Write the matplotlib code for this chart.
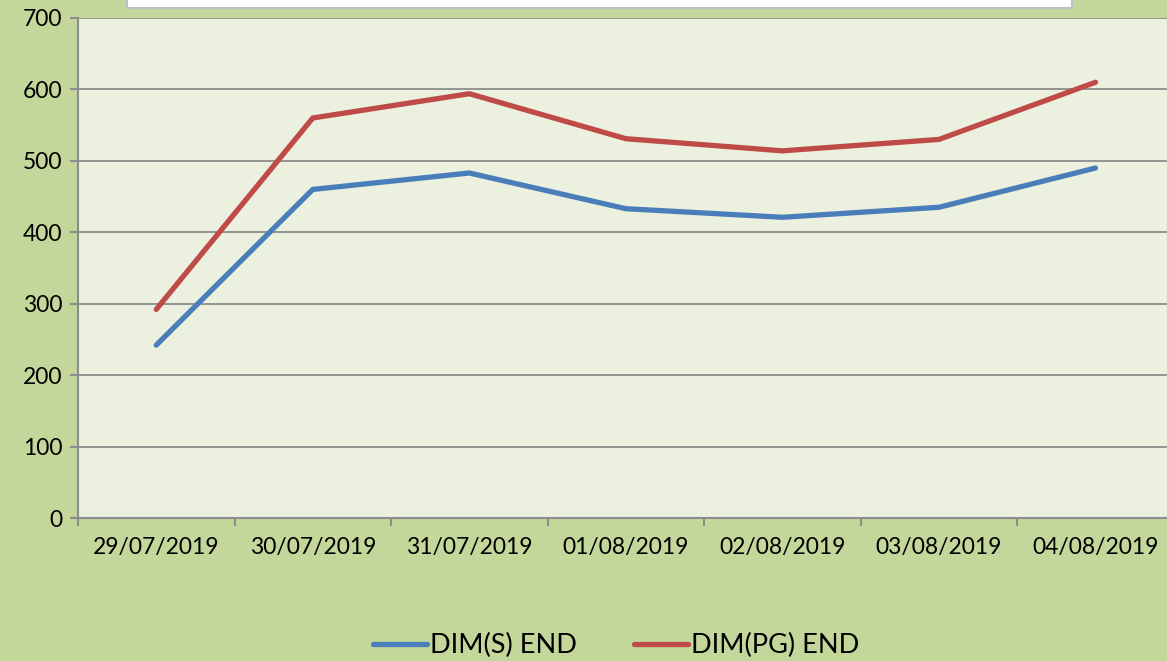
import matplotlib.pyplot as plt
from matplotlib.patches import Rectangle

plt.rcParams['font.family'] = ['Lato', 'DejaVu Sans']

# dados
datas = ['29/07/2019', '30/07/2019', '31/07/2019', '01/08/2019',
         '02/08/2019', '03/08/2019', '04/08/2019']
dim_s = [242, 460, 483, 433, 421, 435, 490]
dim_pg = [292, 560, 594, 531, 514, 530, 610]

fundo = '#C4D79B'
area = '#EBF1DE'
cinza = '#8C8C8C'

fig = plt.figure(figsize=(11.67, 6.61), dpi=100, facecolor=fundo)
ax = fig.add_axes([0.0668, 0.2163, 0.939, 0.7565], facecolor=area)

# caixa branca do titulo (cortada no topo)
fig.patches.append(Rectangle((127 / 1167, 1 - 8 / 661), 945 / 1167, 0.05,
                             transform=fig.transFigure, facecolor='white',
                             edgecolor='#BFBFBF', linewidth=1.5))

x = list(range(len(datas)))
ax.plot(x, dim_s, color='#4A7EBB', linewidth=3.8, solid_capstyle='round', label='DIM(S) END')
ax.plot(x, dim_pg, color='#BE4B48', linewidth=3.8, solid_capstyle='round', label='DIM(PG) END')

ax.set_xlim(-0.5, len(datas) - 0.5)
ax.set_ylim(0, 700)
ax.set_yticks(range(0, 701, 100))
ax.set_xticks([i + 0.5 for i in range(-1, len(datas))], minor=False)
ax.set_xticklabels([])
ax.set_xticks(x, minor=True)
ax.set_xticklabels(datas, minor=True)
ax.tick_params(axis='x', which='minor', length=0, pad=14, labelsize=16.5)
ax.tick_params(axis='x', which='major', length=6, width=1.5, color=cinza)
ax.tick_params(axis='y', length=6, width=1.5, color=cinza, labelsize=16.5, pad=5)

ax.grid(axis='y', color=cinza, linewidth=1.3)
ax.set_axisbelow(True)
for lado in ['top', 'right']:
    ax.spines[lado].set_visible(False)
for lado in ['left', 'bottom']:
    ax.spines[lado].set_color(cinza)
    ax.spines[lado].set_linewidth(1.5)

fig.legend(loc='lower center', bbox_to_anchor=(0.528, -0.033), ncol=2, frameon=False,
           fontsize=19.5, handlelength=2.0, handletextpad=0.1, columnspacing=2.1)

plt.savefig('out.png', dpi=100, facecolor=fundo)
